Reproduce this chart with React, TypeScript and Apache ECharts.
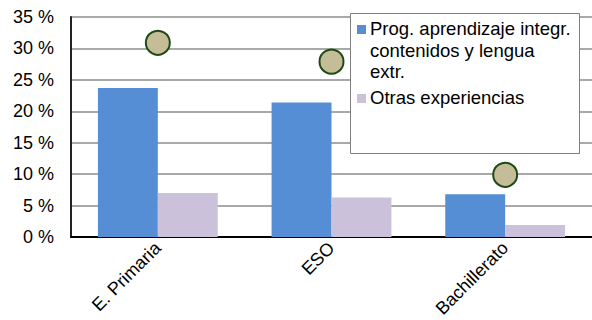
import React, { useEffect, useRef } from "react";
import * as echarts from "echarts";

const categories = ["E. Primaria", "ESO", "Bachillerato"];
const seriesNames = ["Prog. aprendizaje integr. contenidos y lengua extr.", "Otras experiencias"];
const clilValues = [23.7, 21.4, 6.8];
const otherValues = [7.0, 6.3, 1.9];
const markerValues = [30.9, 27.9, 9.9];
const legendLines = [["Prog. aprendizaje integr.", "contenidos y lengua", "extr."], ["Otras experiencias"]];
const colors = ["#558ed5", "#ccc1da"];
const FONT = "'Liberation Sans', Arial, sans-serif";

export default function App() {
  const ref = useRef<HTMLDivElement>(null);
  useEffect(() => {
    document.body.style.margin = "0";
    if (!ref.current) return;
    const chart = echarts.init(ref.current, null, { renderer: "svg" });
    const lx = 350, ly = 13;
    chart.setOption({
      animation: false,
      textStyle: { fontFamily: FONT },
      grid: { left: 71, top: 17, right: -1, bottom: 81, containLabel: false },
      xAxis: {
        type: "category",
        data: categories,
        axisLine: { lineStyle: { color: "#000", width: 2 } },
        axisTick: { show: false },
        axisLabel: { rotate: 45, fontSize: 18, color: "#000", margin: 8, fontFamily: FONT },
      },
      yAxis: {
        type: "value",
        min: 0,
        max: 35,
        interval: 5,
        axisLine: { show: true, lineStyle: { color: "#222", width: 2 } },
        axisTick: { show: false },
        splitLine: { lineStyle: { color: "#8c8c8c", width: 1.5 } },
        axisLabel: { formatter: "{value} %", fontSize: 18, color: "#000", margin: 17, fontFamily: FONT },
      },
      series: [
        {
          name: seriesNames[0],
          type: "bar",
          data: clilValues,
          itemStyle: { color: colors[0] },
          barGap: "0%",
          barCategoryGap: "31%",
        },
        {
          name: seriesNames[1],
          type: "bar",
          data: otherValues,
          itemStyle: { color: colors[1] },
        },
        {
          name: "marker",
          type: "scatter",
          data: markerValues,
          symbolSize: 24,
          itemStyle: { color: "#c4bd97", borderColor: "#1d4a14", borderWidth: 2, opacity: 1 },
          z: 5,
        },
      ],
      graphic: [
        {
          type: "rect",
          left: lx + 1,
          top: ly + 1,
          shape: { width: 229, height: 140 },
          style: { fill: "#9a9a9a" },
          z: 10,
        },
        {
          type: "rect",
          left: lx,
          top: ly,
          shape: { width: 229, height: 140 },
          style: { fill: "#fff", stroke: "#7f7f7f", lineWidth: 1 },
          z: 11,
        },
        { type: "rect", left: lx + 7, top: ly + 12, shape: { width: 9, height: 9 }, style: { fill: colors[0] }, z: 12 },
        {
          type: "text",
          left: lx + 20,
          top: ly + 5,
          style: { text: legendLines[0].join("\n"), font: `18.5px ${FONT}`, fill: "#000", lineHeight: 21.5 },
          z: 12,
        },
        { type: "rect", left: lx + 7, top: ly + 81, shape: { width: 9, height: 9 }, style: { fill: colors[1] }, z: 12 },
        {
          type: "text",
          left: lx + 20,
          top: ly + 74,
          style: { text: legendLines[1].join("\n"), font: `18.5px ${FONT}`, fill: "#000", lineHeight: 21.5 },
          z: 12,
        },
      ],
    });
    return () => chart.dispose();
  }, []);
  return <div ref={ref} style={{ width: 592, height: 320 }} />;
}
